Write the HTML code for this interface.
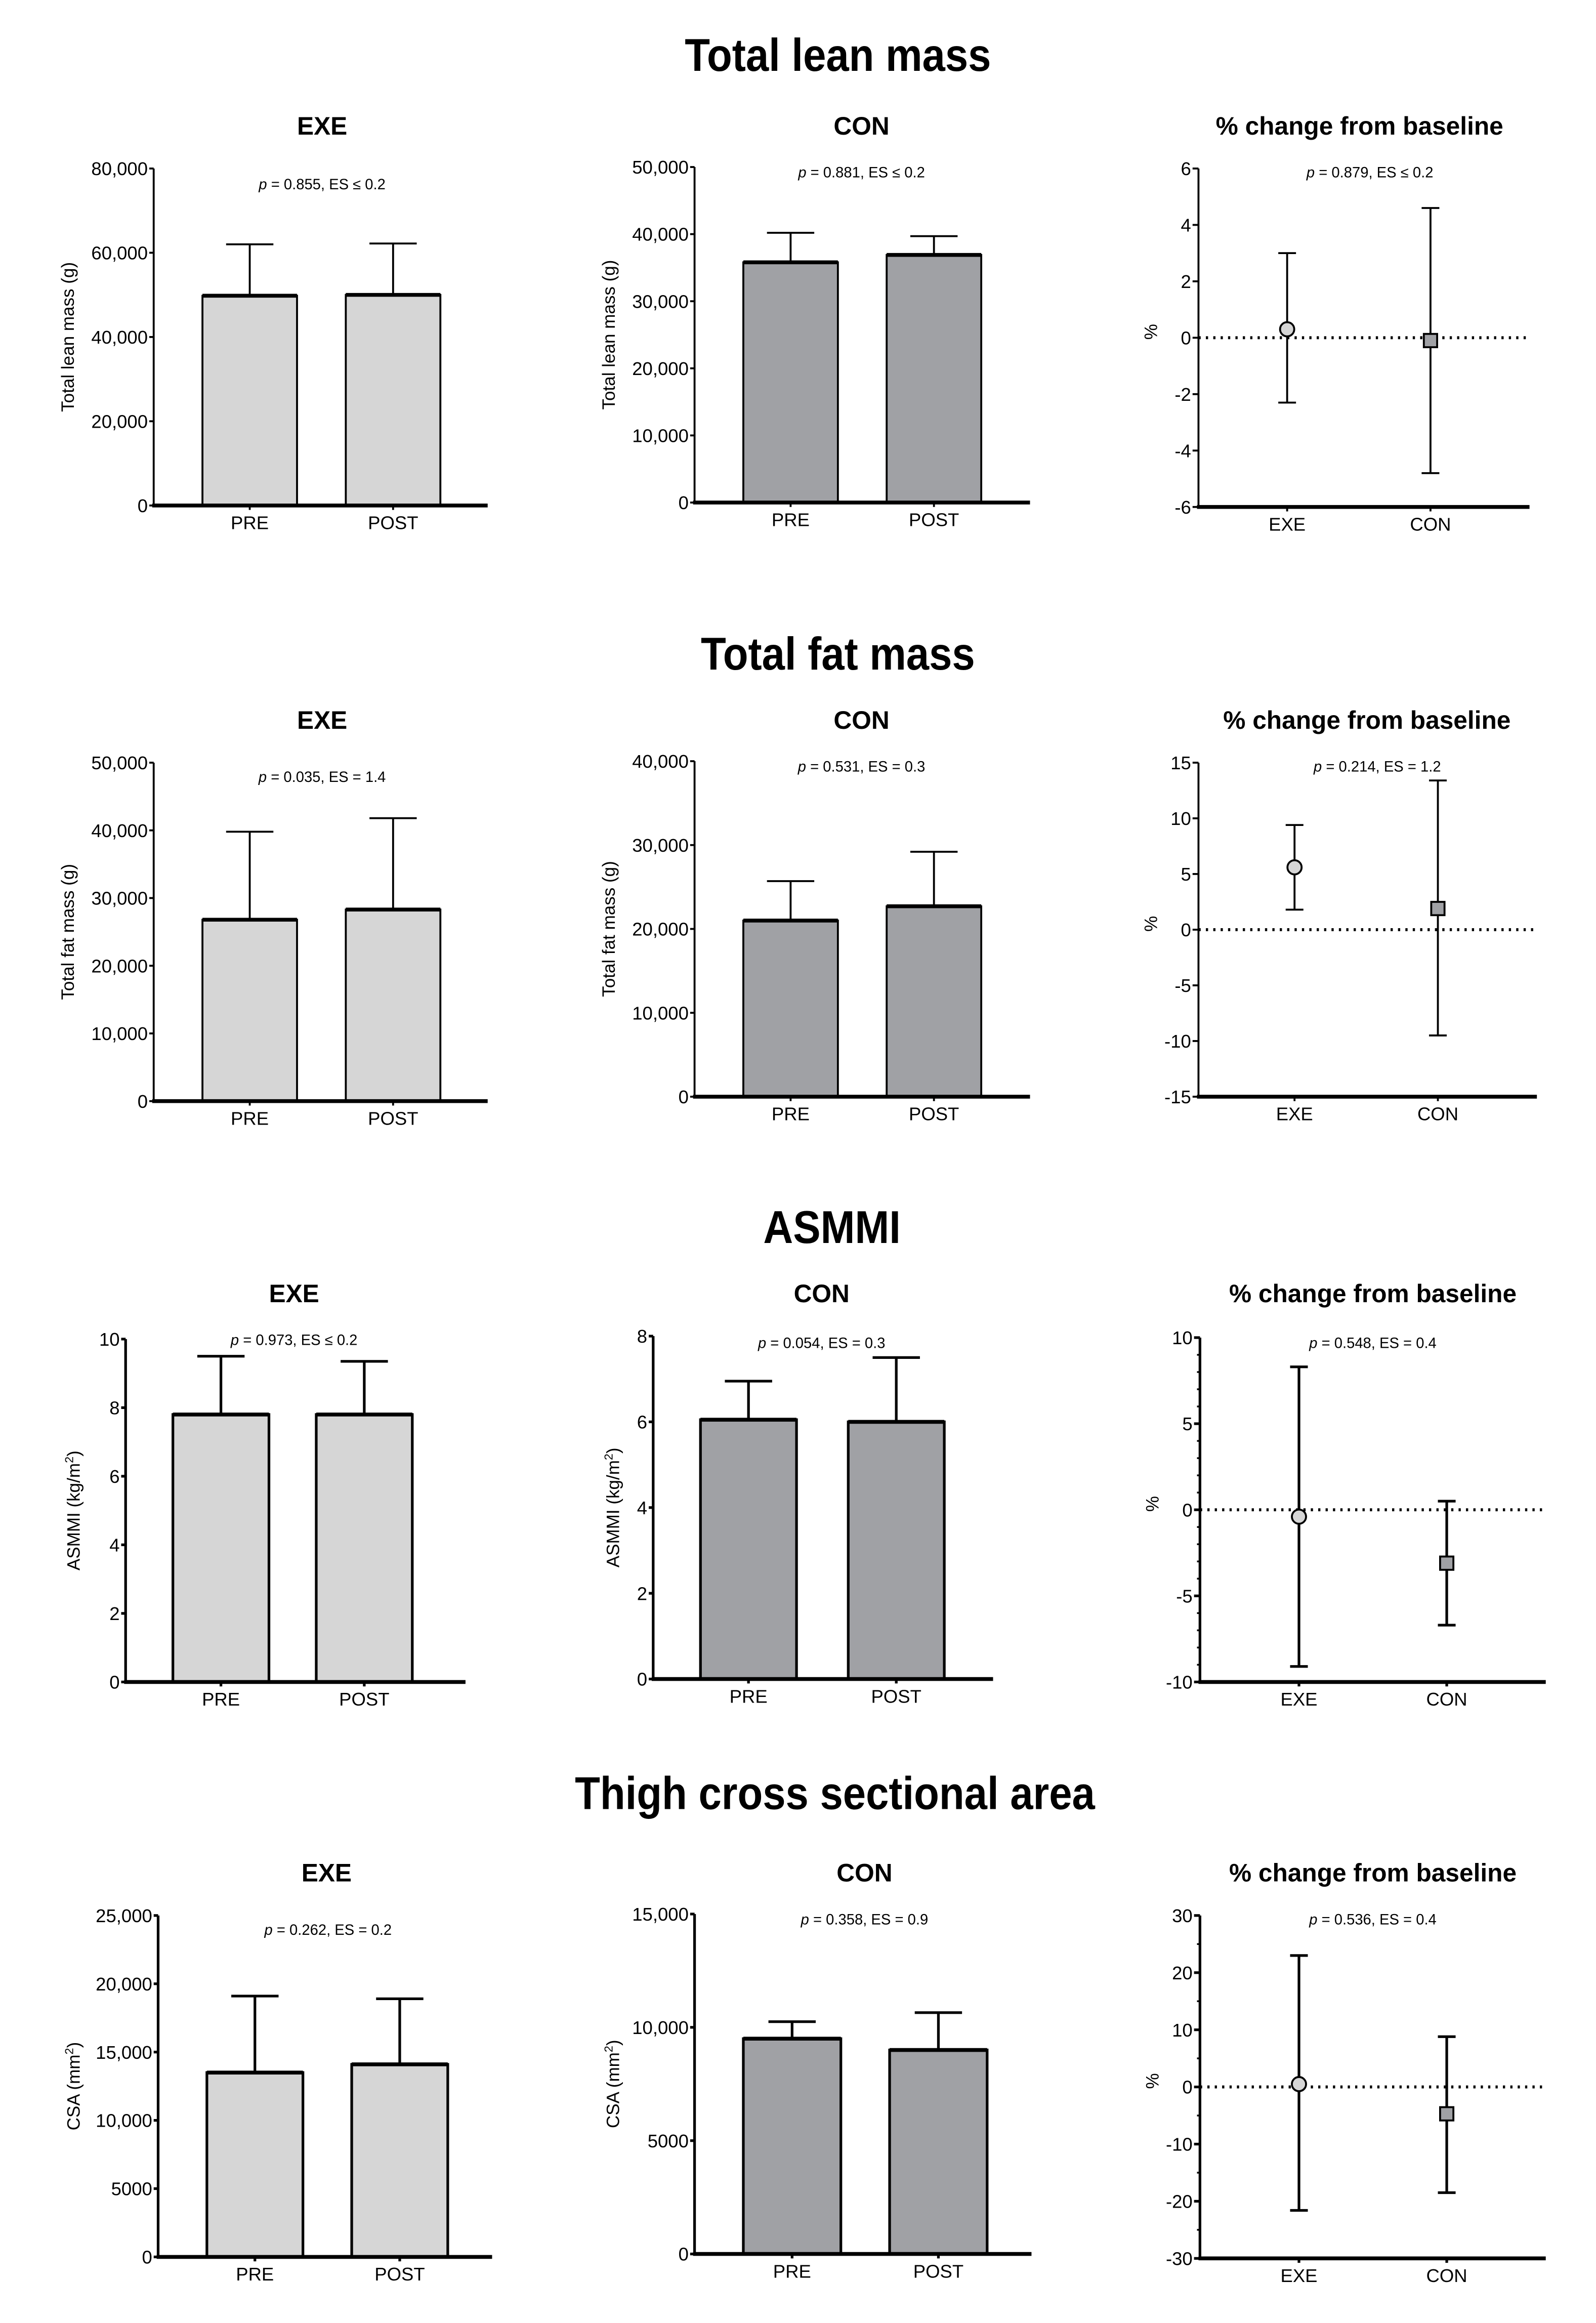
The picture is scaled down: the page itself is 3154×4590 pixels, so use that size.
<!DOCTYPE html>
<html><head><meta charset="utf-8"><title>Body composition</title>
<style>html,body{margin:0;padding:0;background:#fff;}svg{display:block;}text{font-family:"Liberation Sans",Arial,sans-serif;fill:#000;}</style>
</head><body>
<svg id="fig" xmlns="http://www.w3.org/2000/svg" width="3154" height="4590" viewBox="0 0 1080 1571.7"></svg>
<script>
// ---- data ----
const barCategories = ["PRE", "POST"];
const changeCategories = ["EXE", "CON"];
const sectionTitles = ["Total lean mass", "Total fat mass", "ASMMI", "Thigh cross sectional area"];
// lean mass
const leanExeMeans = [49800, 50000];
const leanExeUpper = [62000, 62200];
const leanExeTicks = ["0", "20,000", "40,000", "60,000", "80,000"];
const leanConMeans = [35800, 36900];
const leanConUpper = [40200, 39700];
const leanConTicks = ["0", "10,000", "20,000", "30,000", "40,000", "50,000"];
const leanChangeMeans = [0.3, -0.1];
const leanChangeLow = [-2.3, -4.8];
const leanChangeHigh = [3.0, 4.6];
const leanChangeTicks = ["-6", "-4", "-2", "0", "2", "4", "6"];
// fat mass
const fatExeMeans = [26800, 28300];
const fatExeUpper = [39800, 41800];
const fatExeTicks = ["0", "10,000", "20,000", "30,000", "40,000", "50,000"];
const fatConMeans = [21000, 22700];
const fatConUpper = [25700, 29200];
const fatConTicks = ["0", "10,000", "20,000", "30,000", "40,000"];
const fatChangeMeans = [5.6, 1.9];
const fatChangeLow = [1.8, -9.5];
const fatChangeHigh = [9.4, 13.4];
const fatChangeTicks = ["-15", "-10", "-5", "0", "5", "10", "15"];
// ASMMI
const asmExeMeans = [7.8, 7.8];
const asmExeUpper = [9.5, 9.35];
const asmExeTicks = ["0", "2", "4", "6", "8", "10"];
const asmConMeans = [6.05, 6.0];
const asmConUpper = [6.95, 7.5];
const asmConTicks = ["0", "2", "4", "6", "8"];
const asmChangeMeans = [-0.4, -3.1];
const asmChangeLow = [-9.1, -6.7];
const asmChangeHigh = [8.3, 0.5];
const asmChangeTicks = ["-10", "-5", "0", "5", "10"];
// CSA
const csaExeMeans = [13500, 14100];
const csaExeUpper = [19100, 18900];
const csaExeTicks = ["0", "5000", "10,000", "15,000", "20,000", "25,000"];
const csaConMeans = [9500, 9000];
const csaConUpper = [10250, 10650];
const csaConTicks = ["0", "5000", "10,000", "15,000"];
const csaChangeMeans = [0.5, -4.7];
const csaChangeLow = [-21.6, -18.5];
const csaChangeHigh = [23, 8.8];
const csaChangeTicks = ["-30", "-20", "-10", "0", "10", "20", "30"];

const NS = "http://www.w3.org/2000/svg";
const svg = document.getElementById("fig");
function mk(tag, attrs, parent, txt) {
  const e = document.createElementNS(NS, tag);
  for (const k in attrs) e.setAttribute(k, attrs[k]);
  if (txt !== undefined) e.textContent = txt;
  (parent || svg).appendChild(e);
  return e;
}
function num(s) { return parseFloat(s.replace(/,/g, "")); }
function scaleY(lo, hi, y0, y1) { return v => y0 - (v - lo) / (hi - lo) * (y0 - y1); }

function sectionTitle(txt, x, y) {
  const t = mk("text", {x: x, y: y, "text-anchor": "middle", "font-size": 31, "font-weight": "bold", transform: "translate(" + x + " 0) scale(0.9 1) translate(" + (-x) + " 0)"}, svg, txt);
  
  
}
function pText(g, x, y, rest) {
  const t = mk("text", {x: x, y: y, "text-anchor": "middle", "font-size": 10}, g);
  
  
  mk("tspan", {"font-style": "italic"}, t, "p");
  mk("tspan", {}, t, rest);
}
function yLabel(g, x, y, txt, sup) {
  const t = mk("text", {x: x, y: y, "text-anchor": "middle", "font-size": 12, transform: "rotate(-90 " + x + " " + y + ")"}, g, txt);
  
  
  if (sup) {
    mk("tspan", {"baseline-shift": "super", "font-size": 8}, t, sup);
    mk("tspan", {}, t, ")");
  }
}

function barPanel(o) {
  const g = mk("g", {});
  
  
  const th = o.thick;
  const lo = num(o.ticks[0]), hi = num(o.ticks[o.ticks.length - 1]);
  const Y = scaleY(lo, hi, o.y0, o.y1);
  const ti = mk("text", {x: o.titleX, y: o.titleY, "text-anchor": "middle", "font-size": 17, "font-weight": "bold"}, g, o.title);
  
  
  pText(g, o.pX, o.pY, o.pRest);
  yLabel(g, o.labX, (o.y0 + o.y1) / 2, o.ylab, o.sup);
  // bars
  o.means.forEach((m, i) => {
    const bx = o.barX[i], bw = o.barW;
    const top = Y(m);
    const e = mk("line", {x1: bx + bw / 2, x2: bx + bw / 2, y1: top, y2: Y(o.upper[i]), stroke: "#000", "stroke-width": th});
    
    
    const c = mk("line", {x1: bx + bw / 2 - 16, x2: bx + bw / 2 + 16, y1: Y(o.upper[i]), y2: Y(o.upper[i]), stroke: "#000", "stroke-width": th});
    
    
    const r = mk("rect", {x: bx, y: top, width: bw, height: o.y0 - top, fill: o.fill, stroke: "#000", "stroke-width": th}, g);
    
    
    g.appendChild(e); g.appendChild(c);
    const tl = mk("line", {x1: bx, x2: bx + bw, y1: top, y2: top, stroke: "#000", "stroke-width": 2.6}, g);
    
    
    const xl = mk("text", {x: bx + bw / 2, y: o.y0 + 16, "text-anchor": "middle", "font-size": 12.5}, g, barCategories[i]);
    
    
    mk("line", {x1: bx + bw / 2, x2: bx + bw / 2, y1: o.y0, y2: o.y0 + 3, stroke: "#000", "stroke-width": th}, g);
  });
  // axes
  const ya = mk("line", {x1: o.ax, x2: o.ax, y1: o.y1, y2: o.y0, stroke: "#000", "stroke-width": th}, g);
  
  
  const xa = mk("line", {x1: o.ax - 1, x2: o.xEnd, y1: o.y0, y2: o.y0, stroke: "#000", "stroke-width": 2.6}, g);
  
  
  o.ticks.forEach(t => {
    const y = Y(num(t));
    mk("line", {x1: o.ax - 3, x2: o.ax, y1: y, y2: y, stroke: "#000", "stroke-width": th}, g);
    const tl = mk("text", {x: o.ax - 4, y: y + 4.5, "text-anchor": "end", "font-size": 12.5}, g, t);
    
    
  });
}

function changePanel(o) {
  const g = mk("g", {});
  
  
  const th = o.thick;
  const lo = num(o.ticks[0]), hi = num(o.ticks[o.ticks.length - 1]);
  const Y = scaleY(lo, hi, o.y0, o.y1);
  const ti = mk("text", {x: o.titleX, y: o.titleY, "text-anchor": "middle", "font-size": 17, "font-weight": "bold"}, g, "% change from baseline");
  
  
  pText(g, o.pX, o.pY, o.pRest);
  const pl = mk("text", {x: o.ax - 28, y: Y(0) + 4, "text-anchor": "middle", "font-size": 12, transform: "rotate(-90 " + (o.ax - 32) + " " + Y(0) + ")"}, g, "%");
  
  
  const zl = mk("line", {x1: o.ax, x2: o.xEnd, y1: Y(0), y2: Y(0), stroke: "#000", "stroke-width": 2, "stroke-dasharray": "1.5 3.5"}, g);
  
  
  if (o.minor) {
    const step = (num(o.ticks[1]) - lo) / o.minor;
    for (let v = lo; v <= hi + 1e-9; v += step) {
      const y = Y(v);
      mk("line", {x1: o.ax - 2, x2: o.ax, y1: y, y2: y, stroke: "#000", "stroke-width": 1.2}, g);
    }
  }
  o.ticks.forEach(t => {
    const y = Y(num(t));
    mk("line", {x1: o.ax - 4, x2: o.ax, y1: y, y2: y, stroke: "#000", "stroke-width": th}, g);
    const tl = mk("text", {x: o.ax - 5, y: y + 4.5, "text-anchor": "end", "font-size": 12.5}, g, t);
    
    
  });
  o.means.forEach((m, i) => {
    const x = o.ptX[i];
    const eb = mk("line", {x1: x, x2: x, y1: Y(o.low[i]), y2: Y(o.high[i]), stroke: "#000", "stroke-width": th}, g);
    
    
    [o.low[i], o.high[i]].forEach(v => mk("line", {x1: x - 6, x2: x + 6, y1: Y(v), y2: Y(v), stroke: "#000", "stroke-width": th}, g));
    let p;
    if (i === 0) p = mk("circle", {cx: x, cy: Y(m), r: 4.8, fill: "#d6d6d6", stroke: "#000", "stroke-width": 1.3}, g);
    else p = mk("rect", {x: x - 4.5, y: Y(m) - 4.5, width: 9, height: 9, fill: "#a0a1a5", stroke: "#000", "stroke-width": 1.3}, g);
    
    
    mk("line", {x1: x, x2: x, y1: o.y0, y2: o.y0 + 3, stroke: "#000", "stroke-width": th}, g);
    const xl = mk("text", {x: x, y: o.y0 + 16, "text-anchor": "middle", "font-size": 12.5}, g, changeCategories[i]);
    
    
  });
  const ya = mk("line", {x1: o.ax, x2: o.ax, y1: o.y1, y2: o.y0, stroke: "#000", "stroke-width": th}, g);
  
  
  const xa = mk("line", {x1: o.ax - 1, x2: o.xEnd, y1: o.y0, y2: o.y0, stroke: "#000", "stroke-width": 2.6}, g);
  
  
}

const EXEFILL = "#d6d6d6", CONFILL = "#a0a1a5";
// Row 1
sectionTitle(sectionTitles[0], 567, 48);
barPanel({name: "lean-exe-chart", title: "EXE", titleX: 218, titleY: 91, pX: 218, pY: 128, pRest: " = 0.855, ES ≤ 0.2", ylab: "Total lean mass (g)", labX: 50, ax: 104, y0: 342, y1: 114, xEnd: 330, ticks: leanExeTicks, means: leanExeMeans, upper: leanExeUpper, barX: [137, 234], barW: 64, fill: EXEFILL, thick: 1.3});
barPanel({name: "lean-con-chart", title: "CON", titleX: 583, titleY: 91, pX: 583, pY: 120, pRest: " = 0.881, ES ≤ 0.2", ylab: "Total lean mass (g)", labX: 416, ax: 470, y0: 340, y1: 113, xEnd: 697, ticks: leanConTicks, means: leanConMeans, upper: leanConUpper, barX: [503, 600], barW: 64, fill: CONFILL, thick: 1.3});
changePanel({name: "lean-change-chart", titleX: 920, titleY: 91, pX: 927, pY: 120, pRest: " = 0.879, ES ≤ 0.2", ax: 811, y0: 343, y1: 114, xEnd: 1035, ticks: leanChangeTicks, means: leanChangeMeans, low: leanChangeLow, high: leanChangeHigh, ptX: [871, 968], thick: 1.3});
// Row 2
sectionTitle(sectionTitles[1], 567, 453);
barPanel({name: "fat-exe-chart", title: "EXE", titleX: 218, titleY: 493, pX: 218, pY: 529, pRest: " = 0.035, ES = 1.4", ylab: "Total fat mass (g)", labX: 50, ax: 104, y0: 745, y1: 516, xEnd: 330, ticks: fatExeTicks, means: fatExeMeans, upper: fatExeUpper, barX: [137, 234], barW: 64, fill: EXEFILL, thick: 1.3});
barPanel({name: "fat-con-chart", title: "CON", titleX: 583, titleY: 493, pX: 583, pY: 522, pRest: " = 0.531, ES = 0.3", ylab: "Total fat mass (g)", labX: 416, ax: 470, y0: 742, y1: 515, xEnd: 697, ticks: fatConTicks, means: fatConMeans, upper: fatConUpper, barX: [503, 600], barW: 64, fill: CONFILL, thick: 1.3});
changePanel({name: "fat-change-chart", titleX: 925, titleY: 493, pX: 932, pY: 522, pRest: " = 0.214, ES = 1.2", ax: 811, y0: 742, y1: 516, xEnd: 1040, ticks: fatChangeTicks, means: fatChangeMeans, low: fatChangeLow, high: fatChangeHigh, ptX: [876, 973], thick: 1.3});
// Row 3
sectionTitle(sectionTitles[2], 563, 841);
barPanel({name: "asmmi-exe-chart", title: "EXE", titleX: 199, titleY: 881, pX: 199, pY: 910, pRest: " = 0.973, ES ≤ 0.2", ylab: "ASMMI (kg/m", sup: "2", labX: 54, ax: 85, y0: 1138, y1: 906, xEnd: 315, ticks: asmExeTicks, means: asmExeMeans, upper: asmExeUpper, barX: [117, 214], barW: 65, fill: EXEFILL, thick: 1.8});
barPanel({name: "asmmi-con-chart", title: "CON", titleX: 556, titleY: 881, pX: 556, pY: 912, pRest: " = 0.054, ES = 0.3", ylab: "ASMMI (kg/m", sup: "2", labX: 419, ax: 442, y0: 1136, y1: 904, xEnd: 672, ticks: asmConTicks, means: asmConMeans, upper: asmConUpper, barX: [474, 574], barW: 65, fill: CONFILL, thick: 1.8});
changePanel({name: "asmmi-change-chart", titleX: 929, titleY: 881, pX: 929, pY: 912, pRest: " = 0.548, ES = 0.4", ax: 812, y0: 1138, y1: 905, xEnd: 1046, ticks: asmChangeTicks, means: asmChangeMeans, low: asmChangeLow, high: asmChangeHigh, ptX: [879, 979], thick: 1.8, minor: 5});
// Row 4
sectionTitle(sectionTitles[3], 565, 1224);
barPanel({name: "csa-exe-chart", title: "EXE", titleX: 221, titleY: 1273, pX: 222, pY: 1309, pRest: " = 0.262, ES = 0.2", ylab: "CSA (mm", sup: "2", labX: 54, ax: 107, y0: 1527, y1: 1296, xEnd: 333, ticks: csaExeTicks, means: csaExeMeans, upper: csaExeUpper, barX: [140, 238], barW: 65, fill: EXEFILL, thick: 1.8});
barPanel({name: "csa-con-chart", title: "CON", titleX: 585, titleY: 1273, pX: 585, pY: 1302, pRest: " = 0.358, ES = 0.9", ylab: "CSA (mm", sup: "2", labX: 419, ax: 470, y0: 1525, y1: 1295, xEnd: 698, ticks: csaConTicks, means: csaConMeans, upper: csaConUpper, barX: [503, 602], barW: 66, fill: CONFILL, thick: 1.8});
changePanel({name: "csa-change-chart", titleX: 929, titleY: 1273, pX: 929, pY: 1302, pRest: " = 0.536, ES = 0.4", ax: 812, y0: 1528, y1: 1296, xEnd: 1046, ticks: csaChangeTicks, means: csaChangeMeans, low: csaChangeLow, high: csaChangeHigh, ptX: [879, 979], thick: 1.8, minor: 2});
</script>
</body></html>
